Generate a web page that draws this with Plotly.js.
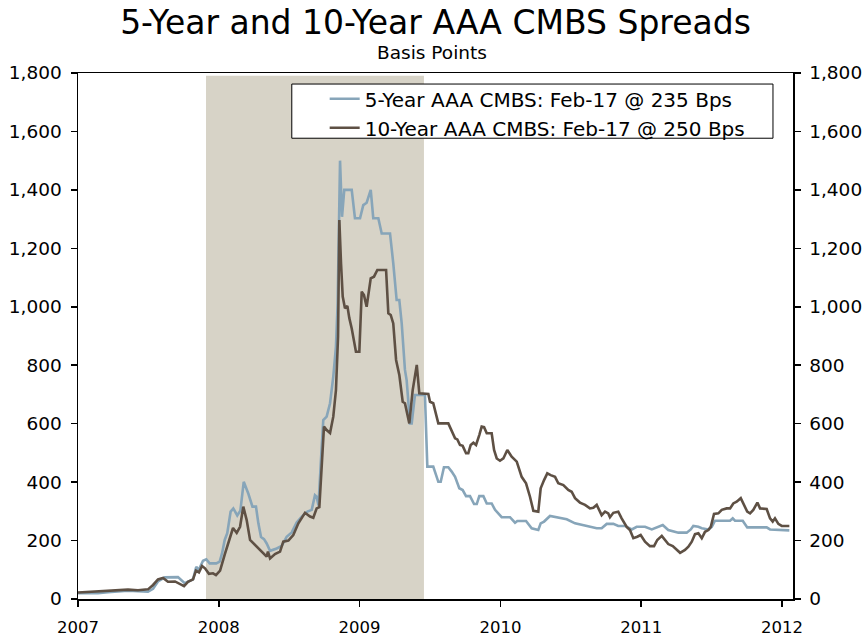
<!DOCTYPE html>
<html>
<head>
<meta charset="utf-8">
<script src="https://cdn.plot.ly/plotly-3.0.1.min.js"></script>
<style>
  html, body { margin: 0; padding: 0; background: #fff; }
  #chart { width: 864px; height: 639px; }
</style>
</head>
<body>
<div id="chart"></div>
<script>
// Weekly AAA CMBS spreads over Treasuries, basis points.
// Time is given in decimal years (2007.0 = start of January 2007).

const yearTicks = [2007, 2008, 2009, 2010, 2011, 2012];
const yTicks = [0, 200, 400, 600, 800, 1000, 1200, 1400, 1600, 1800];

// Recession shading (Dec 2007 - Jun 2009)
const recessionStart = 2007.909;
const recessionEnd = 2009.457;

// 5-Year AAA CMBS
const time5 = [
  2007.000, 2007.142, 2007.213, 2007.284, 2007.355, 2007.426, 2007.497, 2007.533, 2007.568, 2007.616,
  2007.710, 2007.758, 2007.817, 2007.840, 2007.857, 2007.888, 2007.911, 2007.935, 2007.982, 2008.006,
  2008.023, 2008.042, 2008.060, 2008.084, 2008.103, 2008.131, 2008.153, 2008.177, 2008.210, 2008.239,
  2008.264, 2008.281, 2008.300, 2008.321, 2008.340, 2008.364, 2008.411, 2008.447, 2008.482, 2008.518,
  2008.553, 2008.589, 2008.629, 2008.660, 2008.683, 2008.695, 2008.708, 2008.726, 2008.742, 2008.766,
  2008.790, 2008.813, 2008.832, 2008.844, 2008.861, 2008.875, 2008.891, 2008.944, 2008.967, 2009.003,
  2009.026, 2009.050, 2009.079, 2009.097, 2009.133, 2009.157, 2009.216, 2009.239, 2009.263, 2009.282,
  2009.299, 2009.322, 2009.334, 2009.358, 2009.370, 2009.393, 2009.464, 2009.481, 2009.523, 2009.559,
  2009.576, 2009.599, 2009.630, 2009.654, 2009.678, 2009.708, 2009.732, 2009.756, 2009.784, 2009.813,
  2009.832, 2009.850, 2009.879, 2009.903, 2009.938, 2009.962, 2010.009, 2010.068, 2010.104, 2010.120,
  2010.182, 2010.222, 2010.269, 2010.286, 2010.310, 2010.352, 2010.400, 2010.471, 2010.530, 2010.589,
  2010.636, 2010.684, 2010.719, 2010.755, 2010.802, 2010.837, 2010.885, 2010.933, 2010.968, 2011.027,
  2011.075, 2011.110, 2011.153, 2011.192, 2011.264, 2011.323, 2011.352, 2011.370, 2011.406, 2011.430,
  2011.477, 2011.501, 2011.524, 2011.631, 2011.650, 2011.666, 2011.721, 2011.753, 2011.891, 2011.915,
  2012.052
];
const cmbs5 = [
    20,   20,   23,   26,   28,   27,   25,   35,   60,   74,
    75,   54,   67,  110,   99,  131,  136,  122,  122,  128,
   156,  202,  225,  299,  310,  286,  302,  401,  360,  316,
   316,  259,  212,  205,  190,  165,  173,  182,  213,  228,
   262,  282,  299,  305,  355,  350,  320,  480,  612,  624,
   670,  761,  863, 1012, 1500, 1308, 1400, 1400, 1303, 1303,
  1348, 1356, 1400, 1303, 1303, 1251, 1251, 1149, 1023, 1023,
   943,  784,  749,  601,  601,  698,  698,  453,  453,  401,
   401,  451,  451,  436,  418,  379,  373,  352,  352,  325,
   325,  352,  352,  327,  327,  305,  280,  280,  261,  267,
   267,  242,  236,  259,  265,  284,  280,  273,  259,  253,
   247,  242,  242,  257,  257,  250,  250,  238,  247,  247,
   238,  245,  253,  236,  227,  227,  238,  250,  247,  242,
   238,  247,  268,  268,  276,  268,  268,  245,  245,  238,
   235
];

// 10-Year AAA CMBS
const time10 = [
  2007.000, 2007.142, 2007.213, 2007.284, 2007.355, 2007.426, 2007.497, 2007.533, 2007.568, 2007.604,
  2007.639, 2007.689, 2007.732, 2007.753, 2007.781, 2007.817, 2007.838, 2007.859, 2007.881, 2007.902,
  2007.930, 2007.959, 2007.980, 2008.009, 2008.044, 2008.080, 2008.101, 2008.127, 2008.151, 2008.174,
  2008.198, 2008.222, 2008.245, 2008.269, 2008.293, 2008.316, 2008.340, 2008.349, 2008.364, 2008.399,
  2008.435, 2008.458, 2008.494, 2008.529, 2008.565, 2008.612, 2008.648, 2008.671, 2008.695, 2008.714,
  2008.731, 2008.747, 2008.766, 2008.790, 2008.813, 2008.832, 2008.847, 2008.856, 2008.868, 2008.880,
  2008.896, 2008.913, 2008.927, 2008.944, 2008.974, 2008.998, 2009.015, 2009.031, 2009.050, 2009.079,
  2009.102, 2009.126, 2009.188, 2009.204, 2009.221, 2009.239, 2009.259, 2009.282, 2009.306, 2009.322,
  2009.353, 2009.377, 2009.406, 2009.424, 2009.488, 2009.500, 2009.523, 2009.543, 2009.559, 2009.630,
  2009.654, 2009.678, 2009.694, 2009.713, 2009.732, 2009.756, 2009.772, 2009.789, 2009.808, 2009.827,
  2009.850, 2009.867, 2009.884, 2009.903, 2009.938, 2009.955, 2009.974, 2009.997, 2010.021, 2010.049,
  2010.080, 2010.116, 2010.151, 2010.182, 2010.210, 2010.234, 2010.269, 2010.286, 2010.310, 2010.333,
  2010.357, 2010.388, 2010.411, 2010.447, 2010.482, 2010.506, 2010.530, 2010.565, 2010.601, 2010.636,
  2010.660, 2010.684, 2010.719, 2010.743, 2010.766, 2010.778, 2010.802, 2010.837, 2010.861, 2010.897,
  2010.920, 2010.944, 2010.972, 2010.996, 2011.027, 2011.062, 2011.091, 2011.114, 2011.146, 2011.169,
  2011.192, 2011.224, 2011.264, 2011.276, 2011.311, 2011.335, 2011.359, 2011.382, 2011.406, 2011.430,
  2011.453, 2011.477, 2011.494, 2011.517, 2011.548, 2011.572, 2011.607, 2011.631, 2011.654, 2011.678,
  2011.707, 2011.730, 2011.753, 2011.773, 2011.796, 2011.825, 2011.844, 2011.891, 2011.915, 2011.934,
  2011.950, 2011.974, 2011.998, 2012.052
];
const cmbs10 = [
    22,   25,   28,   29,   32,   30,   33,   48,   67,   72,
    59,   60,   51,   44,   59,   67,   97,   91,  113,  105,
    86,   88,   82,   97,  155,  213,  243,  226,  247,  316,
   270,  202,  191,  179,  168,  156,  145,  162,  139,  154,
   162,  196,  200,  219,  259,  295,  282,  278,  310,  314,
   441,  590,  578,  568,  624,  715,  898, 1297, 1149, 1035,
   995, 1003,  961,  926,  846,  846, 1052, 1040, 1000, 1097,
  1103, 1126, 1126,  978,  972,  943,  818,  767,  675,  670,
   601,  715,  801,  704,  702,  675,  670,  636,  601,  601,
   578,  550,  546,  527,  524,  499,  499,  527,  535,  527,
   561,  590,  588,  567,  567,  510,  481,  473,  481,  510,
   487,  470,  418,  396,  350,  302,  299,  379,  407,  430,
   424,  418,  396,  390,  373,  367,  345,  330,  322,  310,
   312,  322,  287,  299,  293,  280,  295,  299,  276,  247,
   236,  208,  213,  219,  196,  181,  181,  202,  216,  202,
   188,  181,  165,  158,  168,  179,  196,  222,  225,  208,
   230,  236,  247,  291,  293,  305,  310,  310,  327,  333,
   345,  322,  299,  293,  305,  330,  310,  308,  276,  265,
   276,  257,  250,  250
];

const font = 'DejaVu Sans, Verdana, sans-serif';
const blue = '#87A5B9';
const brown = '#5E5044';

const traces = [
  {
    x: time5, y: cmbs5, type: 'scatter', mode: 'lines',
    name: '5-Year AAA CMBS: Feb-17 @ 235 Bps',
    line: { color: blue, width: 2.6 }
  },
  {
    x: time10, y: cmbs10, type: 'scatter', mode: 'lines',
    name: '10-Year AAA CMBS: Feb-17 @ 250 Bps',
    line: { color: brown, width: 2.6 }
  },
  // empty trace that attaches the mirrored right-hand value axis
  {
    x: [], y: [], type: 'scatter', mode: 'lines', yaxis: 'y2',
    showlegend: false, hoverinfo: 'skip'
  }
];

const yTickFont = { family: font, size: 18.5, color: '#000' };
const xTickFont = { family: font, size: 16.5, color: '#000' };
const yTickText = yTicks.map(v => v.toLocaleString('en-US'));

const valueAxis = {
  range: [0, 1800], tickmode: 'array', tickvals: yTicks, ticktext: yTickText,
  ticks: 'outside', ticklen: 6, tickwidth: 1.5, tickcolor: '#000',
  showline: true, linecolor: '#000', linewidth: 1.5,
  showgrid: false, zeroline: false, tickfont: yTickFont,
  ticklabelstandoff: 5, fixedrange: true
};

const layout = {
  width: 864, height: 639,
  margin: { l: 78, r: 71, t: 73, b: 40, pad: 0 },
  paper_bgcolor: '#fff', plot_bgcolor: '#fff',
  title: {
    text: '5-Year and 10-Year AAA CMBS Spreads',
    font: { family: font, size: 33, color: '#000' },
    x: 0.5, xanchor: 'center', xref: 'paper',
    y: 1 - 22 / 639, yanchor: 'middle', yref: 'container'
  },
  showlegend: true,
  legend: {
    x: 0.345, xanchor: 'left', y: 0.988, yanchor: 'top',
    bgcolor: 'rgba(0,0,0,0)', borderwidth: 0,
    font: { family: font, size: 20, color: '#000' },
    tracegroupgap: 0, itemwidth: 30
  },
  xaxis: {
    type: 'linear', range: [2007, 2012.078], fixedrange: true,
    tickmode: 'array', tickvals: yearTicks, ticktext: yearTicks.map(String),
    ticks: 'outside', ticklen: 6, tickwidth: 1.5, tickcolor: '#000',
    showline: true, linecolor: '#000', linewidth: 1.5, mirror: true,
    showgrid: false, zeroline: false, tickfont: xTickFont,
    ticklabelstandoff: 7
  },
  yaxis: Object.assign({}, valueAxis),
  yaxis2: Object.assign({}, valueAxis, { overlaying: 'y', side: 'right', anchor: 'x' }),
  shapes: [
    {
      type: 'rect', layer: 'below', xref: 'x', yref: 'paper',
      x0: recessionStart, x1: recessionEnd, y0: 0, y1: 0.995,
      fillcolor: '#D7D3C7', line: { width: 0 }
    },
    {
      type: 'rect', layer: 'above', xref: 'paper', yref: 'paper',
      x0: 0.299, x1: 0.972, y0: 0.876, y1: 0.979,
      fillcolor: '#fff', line: { color: '#000', width: 1 }
    }
  ],
  annotations: [
    {
      text: 'Basis Points', xref: 'paper', yref: 'paper',
      x: 0.495, y: (599 - 52) / 526, xanchor: 'center', yanchor: 'middle',
      showarrow: false, font: { family: font, size: 18.5, color: '#000' }
    }
  ]
};

Plotly.newPlot('chart', traces, layout, { displayModeBar: false, staticPlot: true });
</script>
</body>
</html>
